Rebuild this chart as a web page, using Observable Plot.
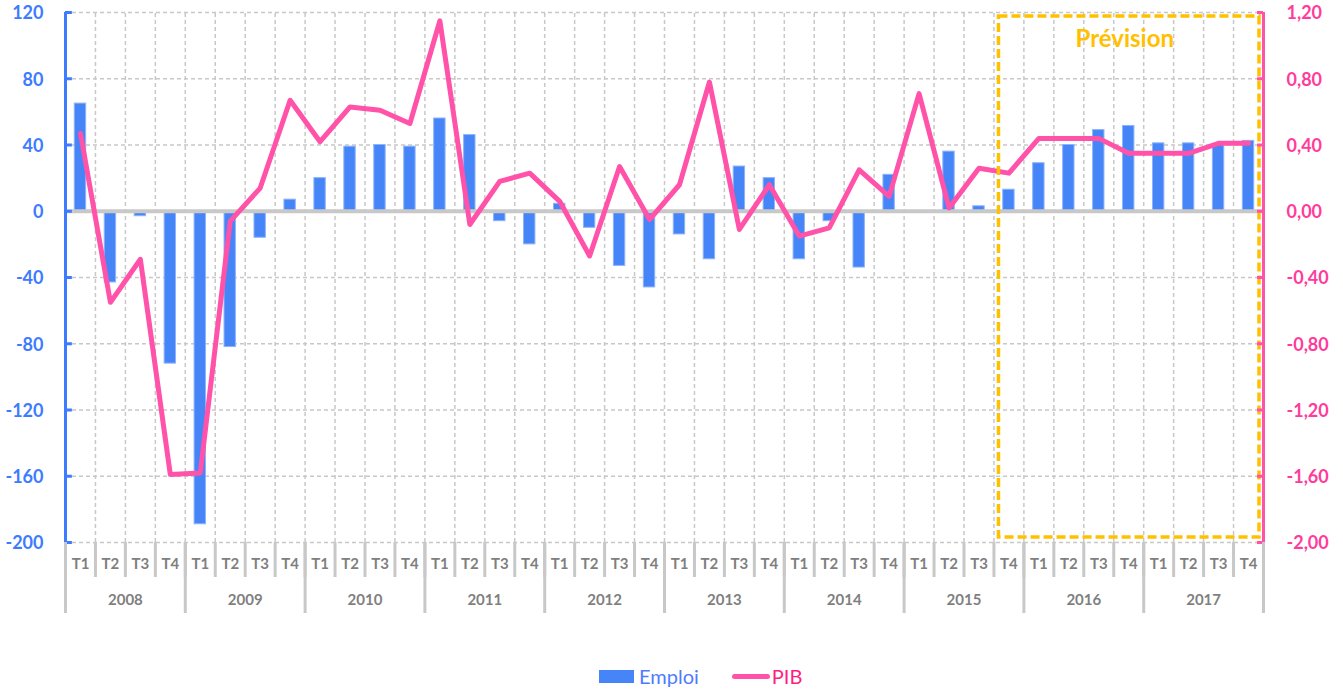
<!DOCTYPE html>
<html><head><meta charset="utf-8">
<script src="https://cdn.jsdelivr.net/npm/d3@7"></script>
<script src="https://cdn.jsdelivr.net/npm/@observablehq/plot@0.6"></script>
<style>
body{margin:0;background:#fff;font-family:Lato,sans-serif;}
#chart{position:relative;width:1343px;height:689px;overflow:hidden;}
#legend{position:absolute;left:599px;top:663px;height:26px;display:flex;align-items:center;font-size:20px;font-family:Lato,sans-serif;}
#legend .sw1{width:35px;height:13px;background:#4585F8;margin-right:5px;}
#legend .sw2{width:38px;height:5px;border-radius:3px;background:#FF52A8;margin-left:33px;margin-right:2px;}
</style></head><body><div id="chart"></div>
<script>
// ---- data ----
const years = [2008, 2009, 2010, 2011, 2012, 2013, 2014, 2015, 2016, 2017];
const quarters = ["T1", "T2", "T3", "T4"];
// Emploi (milliers), quarterly 2008T1..2017T4
const emploi = [
  65, -43, -3, -92,
  -189, -82, -16, 7,
  20, 39, 40, 39,
  56, 46, -6, -20,
  4.5, -10, -33, -46,
  -14, -29, 27, 20,
  -29, -6, -34, 22,
  0, 36, 3, 13,
  29, 40, 49, 51.5,
  41, 41, 40, 42.5
];
// PIB (%), quarterly 2008T1..2017T4
const pib = [
  0.47, -0.55, -0.29, -1.59,
  -1.58, -0.06, 0.14, 0.67,
  0.42, 0.63, 0.61, 0.53,
  1.15, -0.08, 0.18, 0.23,
  0.06, -0.27, 0.27, -0.05,
  0.16, 0.78, -0.11, 0.16,
  -0.15, -0.10, 0.25, 0.09,
  0.71, 0.02, 0.26, 0.23,
  0.44, 0.44, 0.44, 0.35,
  0.35, 0.35, 0.41, 0.41
];
const emploiTicks = [-200, -160, -120, -80, -40, 0, 40, 80, 120];
const pibTicks = [-2.0, -1.6, -1.2, -0.8, -0.4, 0.0, 0.4, 0.8, 1.2];
const forecastFrom = {year: 2015, q: "T4"};
const forecastLabel = "Prévision";
const ratio = 100; // emploi units per PIB unit (dual axis)

// ---- table ----
const rows = [];
years.forEach((y, yi) => quarters.forEach((q, qi) => {
  const i = yi * 4 + qi;
  rows.push({i, year: y, q, emploi: emploi[i], pib: pib[i]});
}));
const n = rows.length;
const fStart = rows.find(r => r.year === forecastFrom.year && r.q === forecastFrom.q).i;
const forecast = [{x1: fStart - 0.5, x2: n - 0.5}];

const blue = "#3D7BFF", pink = "#FF3C9B", grid = "#c8c8c8", gray = "#7f7f7f", gold = "#FFC000";
const yMin = emploiTicks[0], yMax = emploiTicks[emploiTicks.length - 1];
const bounds = d3.range(1, n).map(k => k - 0.5);

const chart = Plot.plot({
  width: 1343,
  height: 655,
  marginLeft: 65,
  marginRight: 80,
  marginTop: 12,
  marginBottom: 113,
  style: {fontFamily: "Lato, sans-serif", background: "#fff"},
  x: {domain: [-0.5, n - 0.5], axis: null},
  y: {domain: [yMin, yMax], axis: null},
  marks: [
    Plot.ruleY(emploiTicks.filter(v => v !== 0 && v !== yMin), {stroke: grid, strokeWidth: 1.5, strokeDasharray: "4,3"}),
    Plot.ruleX(bounds, {y1: yMin, y2: yMax, stroke: grid, strokeWidth: 1.5, strokeDasharray: "4,3"}),
    Plot.ruleY([yMin], {stroke: grid, strokeWidth: 1.5, strokeDasharray: "4,3"}),
    Plot.rect(rows, {x1: d => d.i - 0.19, x2: d => d.i + 0.19, y1: 0, y2: "emploi", fill: "#4585F8", stroke: "#8DB3FA", strokeWidth: 1}),
    Plot.ruleY([0], {stroke: grid, strokeWidth: 4}),
    Plot.line(rows, {x: "i", y: d => d.pib * ratio, stroke: "#FF52A8", strokeWidth: 5, strokeLinejoin: "round", strokeLinecap: "round"}),
    Plot.rect(forecast, {x1: "x1", x2: "x2", y1: yMin, y2: yMax, insetLeft: 5, insetRight: 4, insetTop: 4, insetBottom: 5, fill: "none", stroke: gold, strokeWidth: 3.5, strokeDasharray: "9,4"}),
    Plot.text(forecast, {x: d => (d.x1 + d.x2) / 2, frameAnchor: "top", lineAnchor: "middle", dy: 27, dx: -4, text: () => forecastLabel, fill: gold, fontSize: 24, fontWeight: "bold"}),
    // left axis line + inward ticks
    Plot.ruleX([-0.5], {y1: yMin, y2: yMax, stroke: blue, strokeWidth: 3}),
    Plot.ruleY(emploiTicks, {x1: -0.5, x2: -0.27, stroke: blue, strokeWidth: 3}),
    // right axis line + inward ticks
    Plot.ruleX([n - 0.5], {y1: yMin, y2: yMax, stroke: "#FF52A8", strokeWidth: 3}),
    Plot.ruleY(pibTicks.map(v => v * ratio), {x1: n - 0.7, x2: n - 0.5, stroke: "#FF52A8", strokeWidth: 3}),
    // y tick labels
    Plot.text(emploiTicks, {y: d => d, frameAnchor: "left", textAnchor: "end", dx: -22, dy: 1, text: d => String(d), fill: blue, fontSize: 18, fontWeight: "bold"}),
    Plot.text(pibTicks, {y: d => d * ratio, frameAnchor: "right", textAnchor: "start", dx: 23, dy: 1, text: d => d.toFixed(2).replace(".", ","), fill: pink, fontSize: 18, fontWeight: "bold"}),
    // category axis separators
    Plot.axisX({ticks: d3.range(0, n + 1).map(k => k - 0.5), tickSize: 35, tickFormat: () => "", color: grid, strokeWidth: 3, label: null}),
    Plot.axisX({ticks: d3.range(0, years.length + 1).map(k => k * 4 - 0.5), tickSize: 71, tickFormat: () => "", color: grid, strokeWidth: 3, label: null}),
    Plot.text(rows, {x: "i", text: "q", frameAnchor: "bottom", dy: 26, fill: gray, fontSize: 15, fontWeight: "bold"}),
    Plot.text(years, {x: (d, j) => j * 4 + 1.5, text: d => String(d), frameAnchor: "bottom", dy: 62, fill: gray, fontSize: 15, fontWeight: "bold"})
  ]
});
const host = document.getElementById("chart");
host.appendChild(chart);
const legend = document.createElement("div");
legend.id = "legend";
legend.innerHTML = '<span class="sw1"></span><span style="color:#4D7CFF">Emploi</span><span class="sw2"></span><span style="color:#FF1F7F">PIB</span>';
host.appendChild(legend);
</script>
</body></html>
